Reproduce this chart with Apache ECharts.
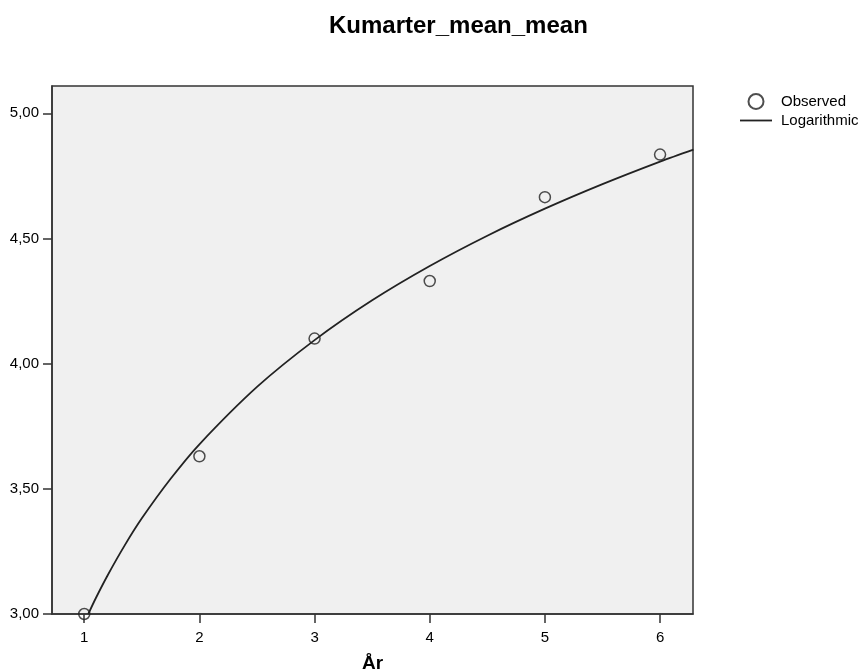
<!DOCTYPE html>
<html>
<head>
<meta charset="utf-8">
<script src="https://cdn.jsdelivr.net/npm/echarts@6/dist/echarts.min.js"></script>
<style>html,body{margin:0;padding:0;background:#fff}#c{width:866px;height:672px}</style>
</head>
<body>
<div id="c"></div>
<script>
const years = [1, 2, 3, 4, 5, 6];
const observed = [3.00, 3.63, 4.10, 4.33, 4.665, 4.835];
const fitX = [1.035, 1.1, 1.2, 1.35, 1.5, 1.75, 2, 2.5, 3, 3.5, 4, 4.5, 5, 5.5, 6, 6.29];
const fitY = [3.00, 3.063, 3.152, 3.273, 3.382, 3.540, 3.678, 3.907, 4.094, 4.253, 4.390, 4.511, 4.619, 4.717, 4.807, 4.855];
const xTicks = [1, 2, 3, 4, 5, 6];
const yTicks = [3.0, 3.5, 4.0, 4.5, 5.0];

const FONT = "'Liberation Sans', Arial, sans-serif";
const chart = echarts.init(document.getElementById('c'), null, {renderer: 'canvas'});
chart.setOption({
  animation: false,
  backgroundColor: '#fff',
  title: {
    text: 'Kumarter_mean_mean',
    left: 324, top: 9,
    textStyle: {fontFamily: FONT, fontSize: 24, fontWeight: 'bold', color: '#000'}
  },
  legend: {
    orient: 'vertical', left: 735, top: 88,
    itemWidth: 32, itemHeight: 15, itemGap: 3,
    textStyle: {fontFamily: FONT, fontSize: 15, color: '#000', padding: [0, 0, 0, 4]},
    data: [
      {name: 'Observed', icon: 'circle'},
      {name: 'Logarithmic', icon: 'path://M0,0h32v1.8h-32z', itemStyle: {color: '#222', borderWidth: 0}}
    ]
  },
  grid: {
    left: 52, right: 173, top: 86, bottom: 58,
    outerBoundsMode: 'none',
    containLabel: false,
    show: true, backgroundColor: '#f0f0f0', borderColor: '#333', borderWidth: 1.5
  },
  xAxis: {
    type: 'value', min: 0.72, max: 6.286,
    name: 'År', nameLocation: 'middle', nameGap: 40,
    nameTextStyle: {fontFamily: FONT, fontSize: 19, fontWeight: 'bold', color: '#000'},
    axisLine: {show: true, lineStyle: {color: '#333', width: 1.5}},
    axisTick: {show: true, inside: false, length: 9, customValues: xTicks, lineStyle: {color: '#333', width: 1.5}},
    axisLabel: {customValues: xTicks, margin: 16, fontFamily: FONT, fontSize: 15, color: '#000',
      formatter: v => String(v)},
    splitLine: {show: false}
  },
  yAxis: {
    type: 'value', min: 3.0, max: 5.109,
    axisLine: {show: true, lineStyle: {color: '#333', width: 1.5}},
    axisTick: {show: true, inside: false, length: 9, customValues: yTicks, lineStyle: {color: '#333', width: 1.5}},
    axisLabel: {customValues: yTicks, margin: 13, fontFamily: FONT, fontSize: 15, color: '#000',
      formatter: v => v.toFixed(2).replace('.', ',')},
    splitLine: {show: false}
  },
  series: [
    {
      name: 'Observed', type: 'scatter',
      symbol: 'circle', symbolSize: 11,
      itemStyle: {color: 'rgba(0,0,0,0)', borderColor: '#222', borderWidth: 1.5},
      data: years.map((x, i) => [x, observed[i]]),
      z: 3
    },
    {
      name: 'Logarithmic', type: 'line',
      symbol: 'none', smooth: 0.3,
      lineStyle: {color: '#222', width: 1.8},
      itemStyle: {color: '#222'},
      data: fitX.map((x, i) => [x, fitY[i]]),
      z: 2
    }
  ]
});
</script>
</body>
</html>
